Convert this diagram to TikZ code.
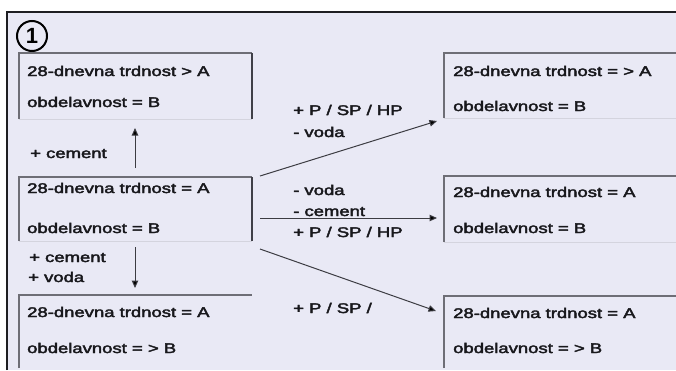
\documentclass[tikz,border=0pt]{standalone}
\usepackage{fontspec}
\usepackage{graphicx}
\setmainfont{Liberation Sans}
\newfontfamily\labfont{Liberation Sans}[UprightFeatures={FakeBold=2.5}]
\usetikzlibrary{arrows.meta}
\definecolor{bgc}{RGB}{233,233,245}
\definecolor{framec}{RGB}{30,30,34}
\definecolor{topc}{RGB}{110,110,118}
\definecolor{rightc}{RGB}{64,64,72}
\definecolor{botc}{RGB}{212,212,222}
\definecolor{txtc}{RGB}{24,24,28}
\definecolor{arrc}{RGB}{60,60,66}
\newcommand{\wt}[1]{\scalebox{1.32}[1]{#1}}
\begin{document}
\begin{tikzpicture}[x=1pt,y=-1pt,
  txt/.style={anchor=base west,inner sep=0pt,text=txtc,font=\labfont\fontsize{14}{16}\selectfont},
  arr/.style={draw=arrc,line width=1pt,-{Triangle[length=7.5pt,width=6.5pt,fill=black]}},
  tb/.style={draw=topc,line width=1.2pt},
  rb/.style={draw=rightc,line width=1.4pt},
  bb/.style={draw=botc,line width=1pt}]
\useasboundingbox (0,0) rectangle (676,370);
\fill[white] (0,0) rectangle (676,370);
\fill[bgc] (7,12) rectangle (676,370);
\draw[framec,line width=2pt] (7,370) -- (7,12) -- (676,12);
% circle
\node[circle,draw=black,line width=2pt,minimum size=30pt,inner sep=0pt,
  font=\bfseries\fontsize{22}{22}\selectfont] (num) at (32,36) {1};
% left boxes
\draw[bb] (19,119) -- (252,119);
\draw[tb] (19,119) -- (19,53) -- (252,53);
\draw[rb] (252,53) -- (252,119);
\draw[bb] (19,241) -- (252,241);
\draw[tb] (19,241) -- (19,177) -- (252,177);
\draw[rb] (252,177) -- (252,241);
\draw[tb] (19,368) -- (19,295) -- (252,295);
% right boxes
\draw[bb] (444,118) -- (676,118);
\draw[tb] (444,118) -- (444,53) -- (676,53);
\draw[bb] (444,242) -- (676,242);
\draw[tb] (444,242) -- (444,176) -- (676,176);
\draw[tb] (444,368) -- (444,296) -- (676,296);
% box texts
\node[txt] (l1a) at (27,76) {\wt{28-dnevna trdnost > A}};
\node[txt] (l1b) at (27,107) {\wt{obdelavnost = B}};
\node[txt] (l2a) at (27,193) {\wt{28-dnevna trdnost = A}};
\node[txt] (l2b) at (27,233) {\wt{obdelavnost = B}};
\node[txt] (l3a) at (27,317) {\wt{28-dnevna trdnost = A}};
\node[txt] (l3b) at (27,353) {\wt{obdelavnost = > B}};
\node[txt] (r1a) at (453,76) {\wt{28-dnevna trdnost = > A}};
\node[txt] (r1b) at (453,111) {\wt{obdelavnost = B}};
\node[txt] (r2a) at (453,197) {\wt{28-dnevna trdnost = A}};
\node[txt] (r2b) at (453,233) {\wt{obdelavnost = B}};
\node[txt] (r3a) at (453,318) {\wt{28-dnevna trdnost = A}};
\node[txt] (r3b) at (453,353) {\wt{obdelavnost = > B}};
% labels
\node[txt] (c1) at (30,158) {\wt{+ cement}};
\node[txt] (c2) at (29,262) {\wt{+ cement}};
\node[txt] (v2) at (28,282) {\wt{+ voda}};
\node[txt] (p1) at (293,115) {\wt{+ P / SP / HP}};
\node[txt] (v1) at (293,137) {\wt{- voda}};
\node[txt] (v3) at (293,195) {\wt{- voda}};
\node[txt] (c3) at (293,216) {\wt{- cement}};
\node[txt] (p3) at (293,237) {\wt{+ P / SP / HP}};
\node[txt] (p4) at (293,313) {\wt{+ P / SP /}};
% arrow ends
\coordinate (us) at (135,168); \coordinate (ue) at (135,128);
\coordinate (ds) at (135,247); \coordinate (de) at (135,288);
\coordinate (as) at (260,176); \coordinate (ae) at (437,121);
\coordinate (hs) at (260,218); \coordinate (he) at (437,218);
\coordinate (bs) at (260,249); \coordinate (be) at (436,311);
\draw[arr] (us) -- (ue);
\draw[arr] (ds) -- (de);
\draw[arr] (as) -- (ae);
\draw[arr] (hs) -- (he);
\draw[arr] (bs) -- (be);
\end{tikzpicture}
\end{document}
